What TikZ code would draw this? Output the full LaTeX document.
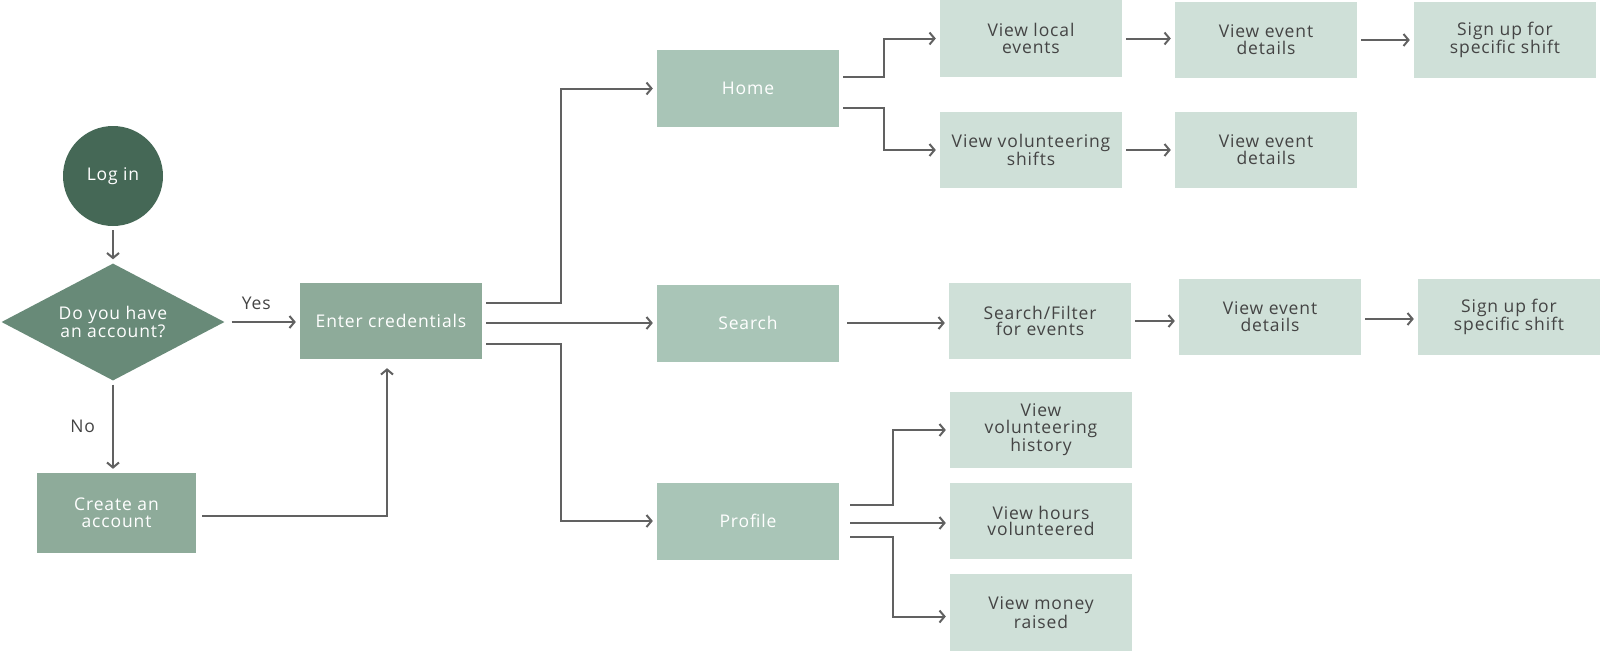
\documentclass[tikz,border=0pt]{standalone}
\usepackage{fontspec}
\setmainfont{Open Sans}[LetterSpace=5]
\usepackage{tikz}
\usetikzlibrary{positioning,shapes.geometric,arrows.meta}
\definecolor{darkgr}{HTML}{456856}
\definecolor{diagr}{HTML}{688A78}
\definecolor{midgr}{HTML}{8EAB9A}
\definecolor{pagegr}{HTML}{A9C5B7}
\definecolor{lightgr}{HTML}{CFE0D8}
\definecolor{linegr}{HTML}{616161}
\definecolor{txtgr}{HTML}{444444}
\tikzset{
  flownode/.style = {align=center, inner sep=0pt, text centered,
    font=\fontsize{17.5}{16.8}\selectfont},
  start_n/.style = {flownode, circle, fill=darkgr, text=white, minimum size=100pt},
  ask_n/.style = {flownode, diamond, aspect=1.9, fill=diagr, text=white,
    minimum width=223pt, minimum height=117pt},% question
  mid_n/.style = {flownode, rectangle, fill=midgr, text=white,
    minimum width=182pt, minimum height=76pt},
  page_n/.style = {flownode, rectangle, fill=pagegr, text=white,
    minimum width=182pt, minimum height=77pt},% main pages
  leaf_n/.style = {flownode, rectangle, fill=lightgr, text=txtgr,
    minimum width=182pt, minimum height=76pt},
  flow_e/.style = {draw=linegr, line width=2pt,
    -{Straight Barb[length=5pt,width=12pt]}, shorten <=4pt, shorten >=4pt},
  lbl/.style = {text=txtgr, font=\fontsize{17.5}{17}\selectfont, inner sep=0pt},
}

\begin{document}
\begin{tikzpicture}[x=1pt,y=-1pt]
\useasboundingbox (0,0) rectangle (1600,651);

\node [start_n] (login) at (113,176) {Log in};
\node [ask_n] (ask) at (113,322) {Do you have\\an account?};
\node [mid_n] (cred) at (391,321) {Enter credentials};
\node [mid_n,minimum width=159pt,minimum height=80pt] (create) at (116.5,513) {Create an\\account};

\node [page_n] (home) at (748,88.5) {Home};
\node [page_n] (search) at (748,323) {Search};
\node [page_n] (profile) at (748,521) {Profile};

\node [leaf_n,minimum height=77pt] (localev) at (1031,38.5) {View local\\events};
\node [leaf_n] (volshift) at (1031,150) {View volunteering\\shifts};
\node [leaf_n] (details_1) at (1266,40) {View event\\details};
\node [leaf_n] (signup_1) at (1505,40) {Sign up for\\specific shift};
\node [leaf_n] (details_2) at (1266,149.5) {View event\\details};

\node [leaf_n] (filter) at (1040,321) {Search/Filter\\for events};
\node [leaf_n] (details_3) at (1270,317) {View event\\details};
\node [leaf_n] (signup_3) at (1509,317) {Sign up for\\specific shift};

\node [leaf_n] (history) at (1041,430) {View\\volunteering\\history};
\node [leaf_n] (hours) at (1041,521) {View hours\\volunteered};
\node [leaf_n,minimum height=77pt] (money) at (1041,612.5) {View money\\raised};

% log in part
\draw [flow_e] (login) -- (ask);
\draw [flow_e,shorten <=7pt] (ask.east) -- (ask.east -| cred.west) node[lbl,midway,above=11pt,xshift=-6pt]{Yes};
\draw [flow_e] (ask.south) -- (ask.south |- create.north) node[lbl,midway,left=17pt]{No};
\draw [flow_e,shorten <=6pt,shorten >=9pt] ([yshift=-3pt]create.east) -| ([xshift=-4pt]cred.south);

% pages
\draw [flow_e] ([yshift=18pt]cred.east) -- ++(79,0) |- (home.west);
\draw [flow_e] ([yshift=-2pt]cred.east) -- ([yshift=-2pt]cred.east -| search.west);
\draw [flow_e] ([yshift=-23pt]cred.east) -- ++(79,0) |- (profile.west);

\draw [flow_e] ([yshift=11.5pt]home.east) -- ++(45,0) |- (localev.west);
\draw [flow_e] ([yshift=-19.5pt]home.east) -- ++(45,0) |- (volshift.west);
\draw [flow_e] (localev.east) -- (localev.east -| details_1.west);
\draw [flow_e] (details_1.east) -- (details_1.east -| signup_1.west);
\draw [flow_e] (volshift.east) -- (volshift.east -| details_2.west);

\draw [flow_e,shorten <=8pt] (search.east) -- (search.east -| filter.west);
\draw [flow_e] (filter.east) -- (filter.east -| details_3.west);
\draw [flow_e] ([yshift=-2pt]details_3.east) -- ([yshift=-2pt]details_3.east -| signup_3.west);

\draw [flow_e,shorten <=11pt] ([yshift=16pt]profile.east) -- ++(54,0) |- (history.west);
\draw [flow_e,shorten <=11pt] ([yshift=-2pt]profile.east) -- ([yshift=-2pt]profile.east -| hours.west);
\draw [flow_e,shorten <=11pt] ([yshift=-16pt]profile.east) -- ++(54,0) |- ([yshift=-4pt]money.west);
\end{tikzpicture}
\end{document}
